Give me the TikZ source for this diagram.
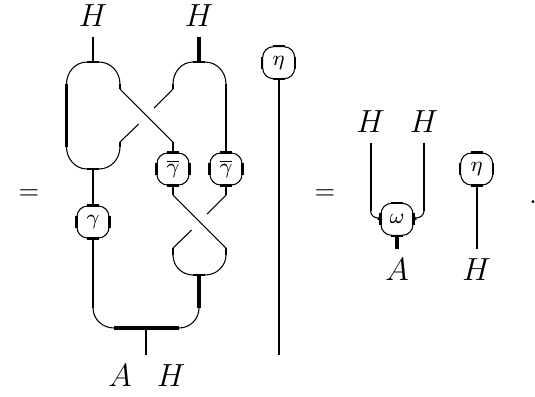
\documentclass[tikz,border=0pt]{standalone}
\usepackage{amsmath, amssymb}
\usetikzlibrary{positioning}
\tikzset{
	wire/.style={line width=0.72pt},
	thinwire/.style={line width=0.4pt},
	heavy/.style={line width=1.2pt},
	boxtick/.style={line width=0.8pt},
	label/.style={inner sep=3.4pt, font=\large},
	mapbox/.style={draw, line width=0.4pt, rounded corners=4pt, minimum size=12pt, inner sep=0pt, font=\footnotesize}
}
\begin{document}
\begin{tikzpicture}[x=0.375pt, y=-0.375pt]
	\useasboundingbox (0, 0) rectangle (535, 396);

	\node (eqA) at (29, 195) {$=$};
	\node (eqB) at (325, 195) {$=$};
	\node (dot) at (533, 202) {$.$};

	\node[label] (hA) at (93, 16) {$H$};
	\node[label] (hB) at (199, 16) {$H$};
	\node[label] (aBot) at (120, 376) {$A$};
	\node[label] (hBot) at (171, 376) {$H$};
	\node[label] (hC) at (370.7, 122) {$H$};
	\node[label] (hD) at (424, 122) {$H$};
	\node[label] (aR) at (397, 270) {$A$};
	\node[label] (hR) at (476.7, 270) {$H$};

	\node[mapbox] (gam) at (93, 222) {$\gamma$};
	\node[mapbox] (barA) at (173, 169) {$\overline{\gamma}$};
	\node[mapbox] (barB) at (226, 169) {$\overline{\gamma}$};
	\node[mapbox] (etaA) at (278.7, 62.7) {$\eta$};
	\node[mapbox] (etaB) at (476.7, 169) {$\eta$};
	\node[mapbox] (om) at (397, 219.3) {$\omega$};

	\foreach \b in {gam,barA,barB,etaA,etaB,om} {
		\draw[boxtick] (\b.north) ++(-6, 0) -- ++(12, 0);
		\draw[boxtick] (\b.south) ++(-6, 0) -- ++(12, 0);
		\draw[boxtick] (\b.west) ++(0, -6) -- ++(0, 12);
		\draw[boxtick] (\b.east) ++(0, -6) -- ++(0, 12);
	};

	\foreach \n/\x/\y in {capA/93/62, capAl/87/62, capAr/99/62, sideAl/66.5/84, sideAr/120/84, crossAs/120/89, crossAe/173/142,
		cupAl/66.5/147, cupAr/120/147, footAr/120/142, baseAl/87/169, baseAr/99/169, baseA/93/169,
		capB/199/62, capBl/193/62, capBr/205/62, sideBl/173/84, sideBr/226/84, footBl/173/89,
		gapAs/154/108, gapAe/138.7/124, topC/173/195, topD/226/195, crossCe/226/248, footCl/173/248,
		gapBs/207/214, gapBe/191.7/230, cupCl/173/255, cupCr/226/255, baseCl/193/275, baseCr/205/275, baseC/199/275,
		barDr/199/308, barDl/93/308, barEl/114/328, barEr/179/328, stem/146/328, stemEnd/146/355, etaEnd/278.7/355,
		inL/370.7/211, inLe/378/218, inR/424/211, inRe/416/218} {
		\coordinate (\n) at (\x, \y);
	};

	\draw[wire] (hA) -- (capA);
	\draw[heavy] (hB) -- (capB);
	\draw[boxtick] (capAl) -- (capAr);
	\draw[boxtick] (capBl) -- (capBr);
	\draw[boxtick] (baseAl) -- (baseAr);
	\draw[boxtick] (baseCl) -- (baseCr);

	\draw[thinwire] (sideAl) to [out=90,in=180] (capAl);
	\draw[thinwire] (capAr) to [out=0,in=90] (sideAr);
	\draw[thinwire] (sideBl) to [out=90,in=180] (capBl);
	\draw[thinwire] (capBr) to [out=0,in=90] (sideBr);
	\draw[heavy] (sideAl) -- (cupAl);
	\draw[thinwire] (cupAl) to [out=-90,in=180] (baseAl);
	\draw[thinwire] (baseAr) to [out=0,in=-90] (cupAr);
	\draw[wire] (sideAr) -- (crossAs);
	\draw[wire] (footAr) -- (cupAr);
	\draw[wire] (sideBl) -- (footBl);

	\draw[thinwire] (crossAs) -- (crossAe);
	\draw[thinwire] (footBl) -- (gapAs);
	\draw[thinwire] (footAr) -- (gapAe);
	\draw[wire] (crossAe) -- (barA);
	\draw[wire] (sideBr) -- (barB);

	\draw[wire] (baseA) -- (gam);
	\draw[wire] (barA) -- (topC);
	\draw[wire] (barB) -- (topD);
	\draw[thinwire] (topC) -- (crossCe);
	\draw[thinwire] (topD) -- (gapBs);
	\draw[thinwire] (footCl) -- (gapBe);
	\draw[wire] (footCl) -- (cupCl);
	\draw[wire] (crossCe) -- (cupCr);
	\draw[thinwire] (cupCl) to [out=-90,in=180] (baseCl);
	\draw[thinwire] (baseCr) to [out=0,in=-90] (cupCr);

	\draw[wire] (gam) -- (barDl);
	\draw[thinwire] (barDl) to [out=-90,in=180] (barEl);
	\draw[heavy] (barEl) -- (barEr);
	\draw[thinwire] (barEr) to [out=0,in=-90] (barDr);
	\draw[heavy] (baseC) -- (barDr);
	\draw[wire] (stem) -- (stemEnd);
	\draw[wire] (etaA) -- (etaEnd);

	\draw[wire] (hC) -- (inL);
	\draw[thinwire] (inL) to [out=-90,in=180] (inLe);
	\draw[heavy] (inLe) -- (om.west);
	\draw[wire] (hD) -- (inR);
	\draw[thinwire] (inR) to [out=-90,in=0] (inRe);
	\draw[heavy] (inRe) -- (om.east);
	\draw[heavy] (om) -- (aR);
	\draw[wire] (etaB) -- (hR);
\end{tikzpicture}
\end{document}
